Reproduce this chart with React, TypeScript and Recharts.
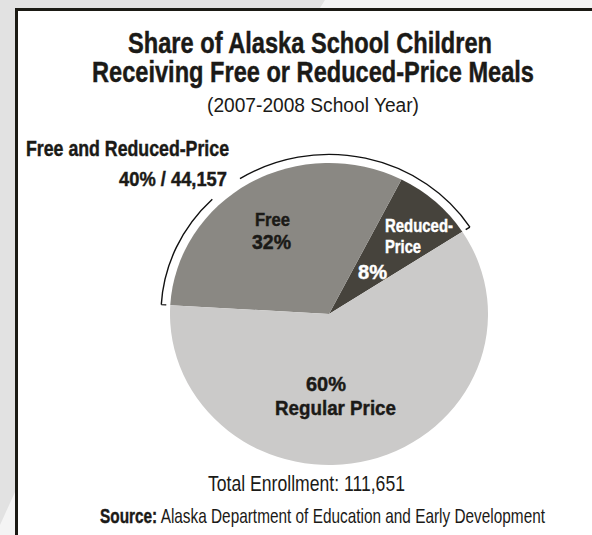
import React from 'react';
import { PieChart, Pie, Cell } from 'recharts';

// ---- data ----
const categories = ['Reduced-Price', 'Free', 'Regular Price'];
const shares = [8.3, 31.6, 60.1];
const sliceColors = ['#46433c', '#8a8883', '#cbcac9'];
const titleLines = ['Share of Alaska School Children', 'Receiving Free or Reduced-Price Meals'];
const subtitle = '(2007-2008 School Year)';
const bracketTitle = 'Free and Reduced-Price';
const bracketValue = '40% / 44,157';
const reducedLines = ['Reduced-', 'Price'];
const totalLabel = 'Total Enrollment: 111,651';
const sourceBold = 'Source:';
const sourceText = ' Alaska Department of Education and Early Development';

const pieData = categories.map((name, i) => ({ name, value: shares[i] }));

// ---- layout ----
const W = 592;
const H = 535;
const CX = 329;
const CY = 314;
const R = 159;
const K = 0.95; // vertical squash of the pie
const START = 33;
const FONT = "'Liberation Sans', Arial, sans-serif";
const INK = '#1b1a17';

const total = shares.reduce((a, b) => a + b, 0);
const bracketEnd = START + (360 * (shares[0] + shares[1])) / total;

function polar(a: number, r: number) {
  const rad = (a * Math.PI) / 180;
  return [CX + r * Math.cos(rad), CY - r * Math.sin(rad)];
}

function arcPath(a1: number, a2: number, r: number) {
  const [x1, y1] = polar(a1, r);
  const [x2, y2] = polar(a2, r);
  return `M${x1},${y1} A${r},${r} 0 0 0 ${x2},${y2}`;
}

function tick(a: number, r1: number, r2: number) {
  const [x1, y1] = polar(a, r1);
  const [x2, y2] = polar(a, r2);
  return `M${x1},${y1} L${x2},${y2}`;
}

type TProps = { x: number; y: number; len: number; size: number; bold?: boolean; fill?: string; children: React.ReactNode };
function T({ x, y, len, size, bold, fill, children }: TProps) {
  const c = fill || INK;
  return (
    <text x={x} y={y} fontSize={size} fontWeight={bold ? 'bold' : 'normal'} fill={c}
      stroke={bold ? c : 'none'} strokeWidth={bold ? 0.45 : 0}
      textLength={len} lengthAdjust="spacingAndGlyphs">
      {children}
    </text>
  );
}

export default function App() {
  const RA = 168;
  const RT = 163;
  const gapA = 122;
  const gapB = 134;
  const bracket =
    tick(START, RT, RA) + ' ' + arcPath(START, gapA, RA) + ' ' +
    arcPath(gapB, bracketEnd, RA) + ' ' + tick(bracketEnd, RA, RT);

  return (
    <div style={{ position: 'absolute', left: 0, top: 0, width: W, height: H, overflow: 'hidden', background: '#f4f4f4' }}>
      <svg width={W} height={H} style={{ position: 'absolute', left: 0, top: 0 }}>
        <polygon points="0,0 325,0 15,492 0,525" fill="#e2e2e2" />
      </svg>
      <div
        style={{
          position: 'absolute', left: 15, top: 8, width: W, height: H,
          background: '#ffffff', borderTop: '3px solid #1b1a14', borderLeft: '3px solid #1b1a14',
        }}
      />
      <div style={{ position: 'absolute', left: 0, top: 0, width: W, height: H, transform: `scaleY(${K})`, transformOrigin: `0px ${CY}px` }}>
        <PieChart width={W} height={H} margin={{ top: 0, right: 0, bottom: 0, left: 0 }}>
          <Pie
            data={pieData}
            dataKey="value"
            nameKey="name"
            cx={CX}
            cy={CY}
            innerRadius={0}
            outerRadius={R}
            startAngle={START}
            endAngle={START + 360}
            stroke="none"
            isAnimationActive={false}
          >
            {pieData.map((d, i) => (
              <Cell key={d.name} fill={sliceColors[i]} stroke="none" />
            ))}
          </Pie>
        </PieChart>
        <svg width={W} height={H} style={{ position: 'absolute', left: 0, top: 0 }}>
          <path d={bracket} fill="none" stroke="#111" strokeWidth={1.4} />
        </svg>
      </div>
      <svg width={W} height={H} style={{ position: 'absolute', left: 0, top: 0 }} fontFamily={FONT}>
        <T x={128} y={53} len={364} size={29} bold>{titleLines[0]}</T>
        <T x={92} y={82} len={442} size={29} bold>{titleLines[1]}</T>
        <T x={207} y={112} len={212} size={20}>{subtitle}</T>
        <T x={26} y={156} len={203} size={22} bold>{bracketTitle}</T>
        <T x={119} y={186} len={108} size={20} bold>{bracketValue}</T>
        <T x={255} y={226} len={35} size={18.5} bold>{categories[1]}</T>
        <T x={252} y={249} len={39} size={19.5} bold>{`${Math.round(shares[1])}%`}</T>
        <T x={385} y={231.5} len={68} size={19} bold fill="#ffffff">{reducedLines[0]}</T>
        <T x={385} y={253} len={36} size={19} bold fill="#ffffff">{reducedLines[1]}</T>
        <T x={358} y={279} len={29} size={19.5} bold fill="#ffffff">{`${Math.round(shares[0])}%`}</T>
        <T x={306} y={391} len={40} size={20} bold>{`${Math.round(shares[2])}%`}</T>
        <T x={275} y={415} len={121} size={21} bold>{categories[2]}</T>
        <T x={208} y={490.5} len={197} size={22}>{totalLabel}</T>
        <text x={100} y={523} fontSize={21} fill={INK} textLength={445} lengthAdjust="spacingAndGlyphs">
          <tspan fontWeight="bold" stroke={INK} strokeWidth={0.45}>{sourceBold}</tspan>
          <tspan>{sourceText}</tspan>
        </text>
      </svg>
    </div>
  );
}
